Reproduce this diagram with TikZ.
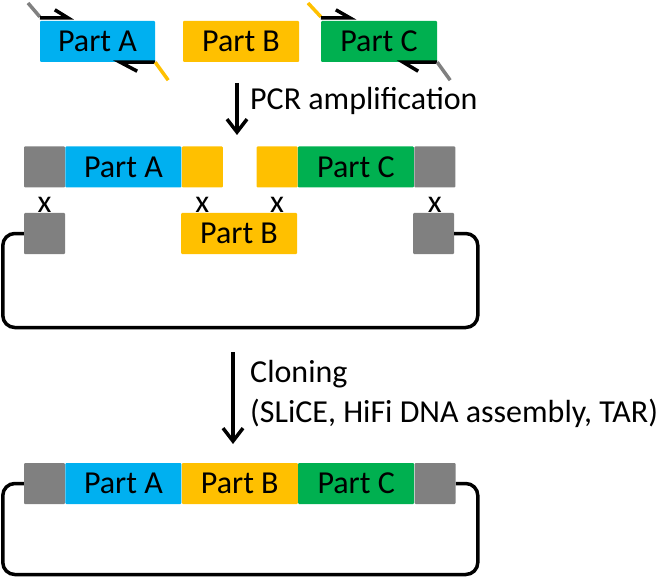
\documentclass[tikz,border=0pt]{standalone}
\usepackage{fontspec}
\setmainfont{Carlito}
\usetikzlibrary{positioning, calc, arrows.meta}

\definecolor{partA}{HTML}{00B0F0}
\definecolor{partB}{HTML}{FFC000}
\definecolor{partC}{HTML}{00B050}
\definecolor{flank}{HTML}{808080}

\tikzset{
    part/.style={minimum height=41pt, inner sep=0pt, rounded corners=1pt,
        font=\fontsize{32}{38}\selectfont},
    flankbox/.style={part, fill=flank, minimum width=41pt},
    halfbox/.style={part, fill=partB, minimum width=41pt},
    plasmid/.style={line width=3.5pt, rounded corners=12pt},
    primer/.style={line width=3.5pt},
    tail/.style={line width=3.5pt},
    step arrow/.style={line width=3.5pt, -{Straight Barb[length=13pt, width=20pt]}},
    lbl/.style={font=\fontsize{32}{38}\selectfont, inner sep=0pt}
}

\begin{document}
\begin{tikzpicture}[x=1pt, y=-1pt]
    \useasboundingbox (0,0) rectangle (661,580);

    % parts before PCR
    \node[part, fill=partA, minimum width=115pt] (pa) at (97.5,41.5) {Part A};
    \node[part, fill=partB, minimum width=116pt] (pb) at (241,41.5) {Part B};
    \node[part, fill=partC, minimum width=116pt] (pc) at (379,41.5) {Part C};

    % primers
    \draw[tail, flank] (28,3) -- ($(pa.north west)+(0,-4)$);
    \draw[primer] ($(pa.north west)+(0,-3)$) -- ($(pa.north west)+(28,-3)$) -- ($(pa.north west)+(15,-11)$);
    \draw[primer] (pa.south east) -- ($(pa.south east)+(-35,0)$) -- ($(pa.south east)+(-18,9)$);
    \draw[tail, partB] (pa.south east) -- ($(pa.south east)+(13,18)$);
    \draw[tail, partB] (308,3) -- ($(pc.north west)+(0,-4)$);
    \draw[primer] ($(pc.north west)+(0,-3)$) -- ($(pc.north west)+(29,-3)$) -- ($(pc.north west)+(15,-11)$);
    \draw[primer] (pc.south east) -- ($(pc.south east)+(-34,0)$) -- ($(pc.south east)+(-19,9)$);
    \draw[tail, flank] (pc.south east) -- ($(pc.south east)+(13,18)$);

    % PCR step
    \coordinate (pcrtop) at (237,83);
    \coordinate (pcrbot) at (237,135);
    \draw[step arrow] (pcrtop) -- (pcrbot);
    \node[lbl, anchor=west] (pcr) at (250,101) {PCR amplification};

    % amplified parts
    \node[flankbox] (gl) at (44.5,167) {};
    \node[part, fill=partA, minimum width=116pt, right=0pt of gl] (ma) {Part A};
    \node[halfbox, right=0pt of ma] (hb1) {};
    \node[halfbox] (hb2) at (277,167) {};
    \node[part, fill=partC, minimum width=116pt, right=0pt of hb2] (mc) {Part C};
    \node[flankbox, right=0pt of mc] (gr) {};

    \node[part, fill=partB, minimum width=116pt] (mb) at (239,233.5) {Part B};
    \node[flankbox] (vl) at (44.5,233.5) {};
    \node[flankbox] (vr) at (433.5,233.5) {};

    \node[lbl, below=9pt of gl] (x1) {x};
    \node[lbl, below=9pt of hb1] (x2) {x};
    \node[lbl, below=9pt of hb2] (x3) {x};
    \node[lbl, below=9pt of gr] (x4) {x};

    % vector
    \draw[plasmid] (vl.west) -- ++(-21,0) -- ++(0,94) -- ++(475,0) -- ++(0,-94) -- (vr.east);

    % cloning step
    \coordinate (clotop) at (233,352);
    \coordinate (clobot) at (233,444);
    \draw[step arrow] (clotop) -- (clobot);
    \node[lbl, anchor=west] (clo) at (250,374) {Cloning};
    \node[lbl, anchor=west] (meth) at (250,413) {(SLiCE, HiFi DNA assembly, TAR)};

    % assembled construct
    \node[flankbox] (fl) at (44.5,483.5) {};
    \node[part, fill=partA, minimum width=116pt, right=0pt of fl] (fa) {Part A};
    \node[part, fill=partB, minimum width=116pt, right=0pt of fa] (fb) {Part B};
    \node[part, fill=partC, minimum width=116pt, right=0pt of fb] (fc) {Part C};
    \node[flankbox, right=0pt of fc] (fr) {};

    \draw[plasmid] (fl.west) -- ++(-21,0) -- ++(0,91) -- ++(475,0) -- ++(0,-91) -- (fr.east);
\end{tikzpicture}
\end{document}
